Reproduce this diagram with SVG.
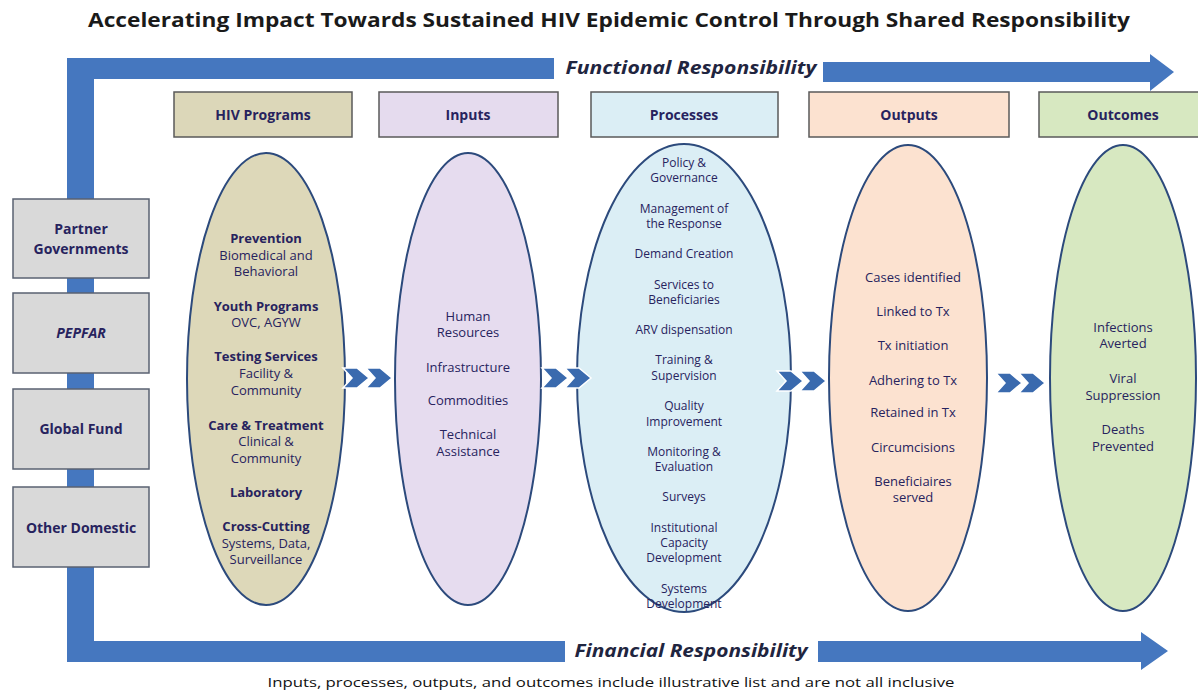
<svg xmlns="http://www.w3.org/2000/svg" width="1198" height="690" viewBox="0 0 1198 690">
<style>
.t{font-family:"Open Sans","Liberation Sans",sans-serif;fill:#27235e;text-anchor:middle}
.b{font-weight:700}
.e{font-size:13px}
.p{font-size:12px}
.h{font-size:14px;font-weight:700}
.hdr{stroke:#5a5a5a;stroke-width:1.5}
.ell{stroke:#2c4a7c;stroke-width:2}
.blue{fill:#4577bf}
.box{fill:#d9d9d9;stroke:#5a6272;stroke-width:1.5}
.chev{fill:#3a6aae;stroke:#ffffff;stroke-width:1.5}
.resp{font-family:"Open Sans","Liberation Sans",sans-serif;font-size:17px;font-weight:700;font-style:italic;fill:#1f2540}
</style>
<defs>
<polygon id="chev" class="chev" points="0,0 14,0 26,10 14,20 0,20 9,10"/>
<g id="chevs"><use href="#chev" x="0"/><use href="#chev" x="23"/></g>
</defs>
<rect width="1198" height="690" fill="#ffffff"/>
<text x="609" y="27" font-family="Open Sans, Liberation Sans, sans-serif" font-size="19" font-weight="700" fill="#1a1a1a" text-anchor="middle" textLength="1042" lengthAdjust="spacingAndGlyphs">Accelerating Impact Towards Sustained HIV Epidemic Control Through Shared Responsibility</text>

<g id="frame">
<rect class="blue" x="67" y="58" width="487" height="21"/>
<rect class="blue" x="67" y="58" width="27" height="604"/>
<rect class="blue" x="67" y="641" width="498" height="21"/>
<polygon class="blue" points="823,62 1150,62 1150,54 1174,72 1150,91 1150,82 823,82"/>
<polygon class="blue" points="818,641 1141,641 1141,632 1168,651 1141,670 1141,662 818,662"/>
<text class="resp" x="691" y="74" text-anchor="middle" textLength="251" lengthAdjust="spacingAndGlyphs">Functional Responsibility</text>
<text class="resp" x="691" y="657" text-anchor="middle" textLength="233" lengthAdjust="spacingAndGlyphs">Financial Responsibility</text>
</g>

<g id="funder-partner"><rect class="box" x="13" y="199" width="136" height="79"/>
<text class="t h" x="81" y="234">Partner</text><text class="t h" x="81" y="254">Governments</text></g>
<g id="funder-pepfar"><rect class="box" x="13" y="293" width="136" height="80"/>
<text class="t h" x="81" y="338" font-style="italic">PEPFAR</text></g>
<g id="funder-globalfund"><rect class="box" x="13" y="389" width="136" height="80"/>
<text class="t h" x="81" y="434">Global Fund</text></g>
<g id="funder-otherdomestic"><rect class="box" x="13" y="487" width="136" height="80"/>
<text class="t h" x="81" y="533">Other Domestic</text></g>

<g id="hdr-programs"><rect class="hdr" x="174" y="92" width="178" height="45" fill="#dcd7b9"/><text class="t h" x="263" y="120">HIV Programs</text></g>
<g id="hdr-inputs"><rect class="hdr" x="379" y="92" width="179" height="45" fill="#e5dbee"/><text class="t h" x="468" y="120">Inputs</text></g>
<g id="hdr-processes"><rect class="hdr" x="591" y="92" width="187" height="45" fill="#dbeef5"/><text class="t h" x="684" y="120">Processes</text></g>
<g id="hdr-outputs"><rect class="hdr" x="809" y="92" width="200" height="45" fill="#fce2d0"/><text class="t h" x="909" y="120">Outputs</text></g>
<g id="hdr-outcomes"><rect class="hdr" x="1039" y="92" width="170" height="45" fill="#d7e8c1"/><text class="t h" x="1123" y="120">Outcomes</text></g>

<g id="programs">
<ellipse class="ell" cx="266" cy="379" rx="79" ry="226" fill="#ddd8b9"/>
<text class="t e b" x="266" y="243">Prevention</text>
<text class="t e" x="266" y="260">Biomedical and</text>
<text class="t e" x="266" y="276">Behavioral</text>
<text class="t e b" x="266" y="311">Youth Programs</text>
<text class="t e" x="266" y="327">OVC, AGYW</text>
<text class="t e b" x="266" y="361">Testing Services</text>
<text class="t e" x="266" y="378">Facility &amp;</text>
<text class="t e" x="266" y="395">Community</text>
<text class="t e b" x="266" y="430">Care &amp; Treatment</text>
<text class="t e" x="266" y="446">Clinical &amp;</text>
<text class="t e" x="266" y="463">Community</text>
<text class="t e b" x="266" y="497">Laboratory</text>
<text class="t e b" x="266" y="531">Cross-Cutting</text>
<text class="t e" x="266" y="548">Systems, Data,</text>
<text class="t e" x="266" y="564">Surveillance</text>
</g>

<g id="inputs">
<ellipse class="ell" cx="468" cy="379" rx="73" ry="226" fill="#e6dcef"/>
<text class="t e" x="468" y="321">Human</text>
<text class="t e" x="468" y="337">Resources</text>
<text class="t e" x="468" y="372">Infrastructure</text>
<text class="t e" x="468" y="405">Commodities</text>
<text class="t e" x="468" y="439">Technical</text>
<text class="t e" x="468" y="456">Assistance</text>
</g>

<g id="processes">
<ellipse class="ell" cx="684" cy="378" rx="107" ry="234" fill="#dbeef5"/>
<text class="t p" x="684" y="167">Policy &amp;</text>
<text class="t p" x="684" y="182">Governance</text>
<text class="t p" x="684" y="213">Management of</text>
<text class="t p" x="684" y="228">the Response</text>
<text class="t p" x="684" y="258">Demand Creation</text>
<text class="t p" x="684" y="289">Services to</text>
<text class="t p" x="684" y="304">Beneficiaries</text>
<text class="t p" x="684" y="334">ARV dispensation</text>
<text class="t p" x="684" y="364">Training &amp;</text>
<text class="t p" x="684" y="380">Supervision</text>
<text class="t p" x="684" y="410">Quality</text>
<text class="t p" x="684" y="426">Improvement</text>
<text class="t p" x="684" y="456">Monitoring &amp;</text>
<text class="t p" x="684" y="471">Evaluation</text>
<text class="t p" x="684" y="501">Surveys</text>
<text class="t p" x="684" y="532">Institutional</text>
<text class="t p" x="684" y="547">Capacity</text>
<text class="t p" x="684" y="562">Development</text>
<text class="t p" x="684" y="593">Systems</text>
<text class="t p" x="684" y="608">Development</text>
</g>

<g id="outputs">
<ellipse class="ell" cx="908" cy="378" rx="79" ry="233" fill="#fce2d0"/>
<text class="t e" x="913" y="282">Cases identified</text>
<text class="t e" x="913" y="316">Linked to Tx</text>
<text class="t e" x="913" y="350">Tx initiation</text>
<text class="t e" x="913" y="385">Adhering to Tx</text>
<text class="t e" x="913" y="417">Retained in Tx</text>
<text class="t e" x="913" y="452">Circumcisions</text>
<text class="t e" x="913" y="486">Beneficiaires</text>
<text class="t e" x="913" y="502">served</text>
</g>

<g id="outcomes">
<ellipse class="ell" cx="1123" cy="378" rx="73" ry="233" fill="#d7e8c1"/>
<text class="t e" x="1123" y="332">Infections</text>
<text class="t e" x="1123" y="348">Averted</text>
<text class="t e" x="1123" y="383">Viral</text>
<text class="t e" x="1123" y="400">Suppression</text>
<text class="t e" x="1123" y="434">Deaths</text>
<text class="t e" x="1123" y="451">Prevented</text>
</g>

<g id="connectors">
<use href="#chevs" x="343" y="368"/>
<use href="#chevs" x="542" y="368"/>
<use href="#chevs" x="777" y="371"/>
<use href="#chevs" x="996" y="373"/>
</g>

<text x="611" y="687" font-family="Open Sans, Liberation Sans, sans-serif" font-size="13" fill="#111111" text-anchor="middle" textLength="687" lengthAdjust="spacingAndGlyphs">Inputs, processes, outputs, and outcomes include illustrative list and are not all inclusive</text>
</svg>
